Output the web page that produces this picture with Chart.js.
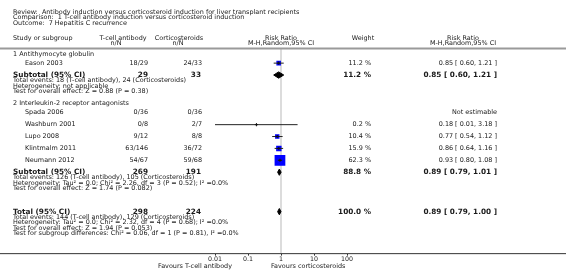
<!DOCTYPE html>
<html>
<head>
<meta charset="utf-8">
<title>Hepatitis C recurrence</title>
<script src="https://cdn.jsdelivr.net/npm/chart.js"></script>
<style>
  html, body { margin: 0; padding: 0; background: #fff; }
  #wrap { width: 566px; height: 272px; }
</style>
</head>
<body>
<div id="wrap"><canvas id="forest" width="566" height="272"></canvas></div>
<script>
// Study level data
const groupNames = ["1 Antithymocyte globulin", "2 Interleukin-2 receptor antagonists"];
const studyNames = ["Eason 2003", "Spada 2006", "Washburn 2001", "Lupo 2008", "Klintmalm 2011", "Neumann 2012"];
const studyGroup = [0, 1, 1, 1, 1, 1];
const tcellEvents = [18, 0, 0, 9, 63, 54];
const tcellTotal = [29, 36, 8, 12, 146, 67];
const steroidEvents = [24, 0, 2, 8, 36, 59];
const steroidTotal = [33, 36, 7, 8, 72, 68];
const weights = [11.2, null, 0.2, 10.4, 15.9, 62.3];
const riskRatio = [0.85, null, 0.18, 0.77, 0.86, 0.93];
const ciLow = [0.60, null, 0.01, 0.54, 0.64, 0.80];
const ciHigh = [1.21, null, 3.18, 1.12, 1.16, 1.08];

// Subgroup totals
const subTcell = [29, 269];
const subSteroid = [33, 191];
const subWeight = [11.2, 88.8];
const subRR = [0.85, 0.89];
const subLow = [0.60, 0.79];
const subHigh = [1.21, 1.01];
const subNotes = [
    ["Total events: 18 (T-cell antibody), 24 (Corticosteroids)",
     "Heterogeneity: not applicable",
     "Test for overall effect: Z = 0.88 (P = 0.38)"],
    ["Total events: 126 (T-cell antibody), 105 (Corticosteroids)",
     "Heterogeneity: Tau\u00b2 = 0.0; Chi\u00b2 = 2.26, df = 3 (P = 0.52); I\u00b2 =0.0%",
     "Test for overall effect: Z = 1.74 (P = 0.082)"]
];

// Overall total
const totalCounts = [298, 224];
const totalWeight = 100.0;
const totalEffect = [0.89, 0.79, 1.00]; // rr, low, high
const totalNotes = [
    "Total events: 144 (T-cell antibody), 129 (Corticosteroids)",
    "Heterogeneity: Tau\u00b2 = 0.0; Chi\u00b2 = 2.32, df = 4 (P = 0.68); I\u00b2 =0.0%",
    "Test for overall effect: Z = 1.94 (P = 0.053)",
    "Test for subgroup differences: Chi\u00b2 = 0.06, df = 1 (P = 0.81), I\u00b2 =0.0%"
];

// Axis
const axisTicks = [0.01, 0.1, 1, 10, 100];
const favourLabels = ["Favours T-cell antibody", "Favours corticosteroids"];

// --- layout (row units on the y scale) ---
const NOTE_STEP = 0.97;
let rowGroup = [], rowStudy = [], rowSub = [], rowSubNotes = [];
let cur = 1.05;
groupNames.forEach((g, gi) => {
    rowGroup[gi] = cur;
    cur += 1.6;
    studyNames.forEach((s, si) => {
        if (studyGroup[si] !== gi) return;
        rowStudy[si] = cur;
        cur += 2.08;
    });
    rowSub[gi] = cur;
    rowSubNotes[gi] = subNotes[gi].map((n, k) => cur + NOTE_STEP * (k + 1));
    cur += NOTE_STEP * subNotes[gi].length + 2.1;
});
const rowTotal = cur - 2.1 + 4.0;
const rowTotalNotes = totalNotes.map((n, k) => rowTotal + NOTE_STEP * (k + 1));

const FONT = '"DejaVu Sans"';
const SMALL = "6.45px " + FONT;
const BOLD = "bold 7.3px " + FONT;
const INK = "#1a1a1a";
const BOX_K = 1.36;      // box side = BOX_K * sqrt(weight)
const DIAMOND_H = 0.55;  // half height of diamonds, row units

function fmtRR(r, l, h) {
    return r.toFixed(2) + " [ " + l.toFixed(2) + ", " + h.toFixed(2) + " ]";
}

// --- datasets ---
const datasets = [];

// line of no effect
datasets.push({
    type: "line",
    data: [{ x: 1, y: 0 }, { x: 1, y: 36 }],
    borderColor: "#dcdcdc",
    borderWidth: 2,
    pointRadius: 0,
    order: 10
});

// confidence intervals
studyNames.forEach((s, i) => {
    if (riskRatio[i] == null) return;
    datasets.push({
        type: "line",
        data: [{ x: ciLow[i], y: rowStudy[i] }, { x: ciHigh[i], y: rowStudy[i] }],
        borderColor: "#222",
        borderWidth: 1,
        pointRadius: 0,
        order: 2
    });
});

// weighted boxes
datasets.push({
    type: "scatter",
    data: studyNames.map((s, i) => riskRatio[i] == null ? null :
        { x: riskRatio[i], y: rowStudy[i], w: weights[i] }).filter(d => d),
    pointStyle: "rect",
    pointRadius: ctx => BOX_K * Math.sqrt(ctx.raw.w) / Math.SQRT2,
    pointBackgroundColor: "#0000ff",
    pointBorderWidth: 0,
    order: 3
});

// estimate ticks
datasets.push({
    type: "scatter",
    data: studyNames.map((s, i) => riskRatio[i] == null ? null :
        { x: riskRatio[i], y: rowStudy[i] }).filter(d => d),
    pointStyle: "cross",
    pointRadius: 1.6,
    pointBorderColor: "#111",
    pointBorderWidth: 1,
    order: 1
});

// diamonds for subtotals and total
function diamond(r, l, h, y) {
    return {
        type: "line",
        data: [{ x: l, y: y }, { x: r, y: y - DIAMOND_H }, { x: h, y: y },
               { x: r, y: y + DIAMOND_H }, { x: l, y: y }],
        borderColor: "#000",
        backgroundColor: "#000",
        borderWidth: 1,
        fill: "shape",
        pointRadius: 0,
        tension: 0,
        order: 1
    };
}
groupNames.forEach((g, gi) => datasets.push(diamond(subRR[gi], subLow[gi], subHigh[gi], rowSub[gi])));
datasets.push(diamond(totalEffect[0], totalEffect[1], totalEffect[2], rowTotal));

// --- text plugin ---
const forestText = {
    id: "forestText",
    afterDraw(chart) {
        const ctx = chart.ctx;
        const py = v => chart.scales.y.getPixelForValue(v);
        const px = v => chart.scales.x.getPixelForValue(v);
        const put = (t, x, y, align, font) => {
            ctx.font = font || SMALL;
            ctx.textAlign = align || "left";
            ctx.fillText(t, x, y);
        };
        ctx.save();
        ctx.fillStyle = INK;
        ctx.textBaseline = "middle";

        // title block
        put("Review:  Antibody induction versus corticosteroid induction for liver transplant recipients", 13, 12);
        put("Comparison:  1 T-cell antibody induction versus corticosteroid induction", 13, 17.5);
        put("Outcome:  7 Hepatitis C recurrence", 13, 23);

        // column headers
        put("Study or subgroup", 13, 38);
        put("T-cell antibody", 123, 38, "center");
        put("n/N", 116, 43.5, "center");
        put("Corticosteroids", 179, 38, "center");
        put("n/N", 178, 43.5, "center");
        put("Risk Ratio", px(1), 38, "center");
        put("M-H,Random,95% CI", px(1), 43.5, "center");
        put("Weight", 363, 38, "center");
        put("Risk Ratio", 463, 38, "center");
        put("M-H,Random,95% CI", 463, 43.5, "center");

        // header rule
        ctx.fillStyle = "#9a9a9a";
        ctx.fillRect(0, 47.5, 566, 2);
        ctx.fillStyle = INK;

        groupNames.forEach((g, gi) => {
            put(g, 13, py(rowGroup[gi]));
            studyNames.forEach((s, si) => {
                if (studyGroup[si] !== gi) return;
                const y = py(rowStudy[si]);
                put(s, 25, y);
                put(tcellEvents[si] + "/" + tcellTotal[si], 148, y, "right");
                put(steroidEvents[si] + "/" + steroidTotal[si], 202, y, "right");
                if (riskRatio[si] == null) {
                    put("Not estimable", 497, y, "right");
                } else {
                    put(weights[si].toFixed(1) + " %", 371, y, "right");
                    put(fmtRR(riskRatio[si], ciLow[si], ciHigh[si]), 497, y, "right");
                }
            });
            const ys = py(rowSub[gi]);
            put("Subtotal (95% CI)", 13, ys, "left", BOLD);
            put(String(subTcell[gi]), 148, ys, "right", BOLD);
            put(String(subSteroid[gi]), 201, ys, "right", BOLD);
            put(subWeight[gi].toFixed(1) + " %", 371, ys, "right", BOLD);
            put(fmtRR(subRR[gi], subLow[gi], subHigh[gi]), 497, ys, "right", BOLD);
            subNotes[gi].forEach((n, k) => put(n, 13, py(rowSubNotes[gi][k])));
        });

        const yt = py(rowTotal);
        put("Total (95% CI)", 13, yt, "left", BOLD);
        put(String(totalCounts[0]), 148, yt, "right", BOLD);
        put(String(totalCounts[1]), 201, yt, "right", BOLD);
        put(totalWeight.toFixed(1) + " %", 371, yt, "right", BOLD);
        put(fmtRR(totalEffect[0], totalEffect[1], totalEffect[2]), 497, yt, "right", BOLD);
        totalNotes.forEach((n, k) => put(n, 13, py(rowTotalNotes[k])));

        // axis rule and favours labels
        const axisY = chart.chartArea.bottom;
        ctx.fillStyle = "#333";
        ctx.fillRect(0, axisY - 0.5, 566, 1);
        ctx.fillStyle = INK;
        put(favourLabels[0], 232, 266, "right");
        put(favourLabels[1], 271, 266, "left");
        ctx.restore();
    }
};

new Chart(document.getElementById("forest"), {
    type: "scatter",
    data: { datasets: datasets },
    options: {
        responsive: false,
        animation: false,
        devicePixelRatio: 1,
        events: [],
        layout: { padding: { left: 215, right: 219, top: 48, bottom: 8.8 } },
        plugins: { legend: { display: false }, tooltip: { enabled: false } },
        scales: {
            x: {
                type: "logarithmic",
                min: 0.01,
                max: 100,
                afterBuildTicks: s => { s.ticks = axisTicks.map(v => ({ value: v })); },
                ticks: {
                    callback: v => String(v),
                    font: { family: "DejaVu Sans", size: 6.3 },
                    color: INK,
                    padding: 0,
                    maxRotation: 0,
                    autoSkip: false
                },
                grid: { display: true, drawOnChartArea: false, drawTicks: true, tickLength: 2, color: "#333" },
                border: { display: false }
            },
            y: { type: "linear", min: 0, max: 36, reverse: true, display: false }
        }
    },
    plugins: [forestText]
});
</script>
</body>
</html>
